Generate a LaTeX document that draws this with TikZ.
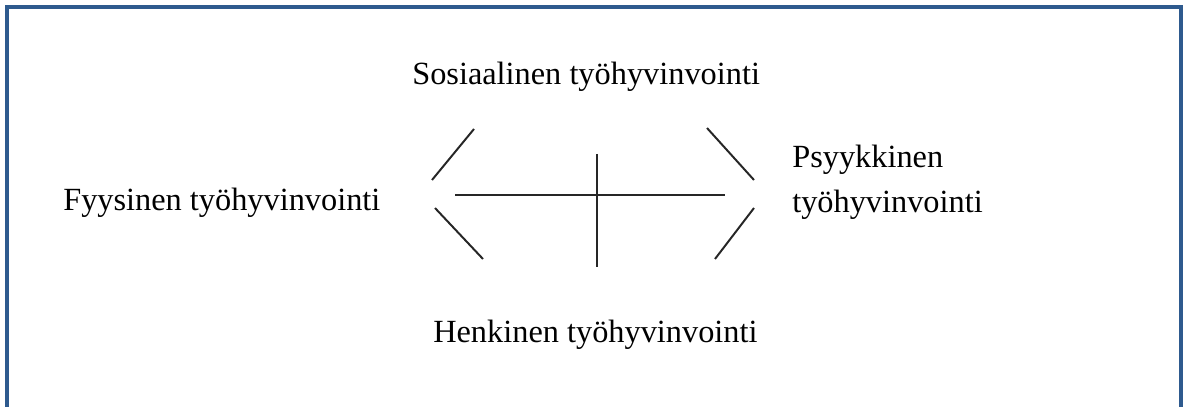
\documentclass[tikz,border=0pt]{standalone}
\usepackage{fontspec}
\setmainfont{Liberation Serif}
\usepackage{tikz}
\definecolor{frameblue}{HTML}{2E5A8E}

\begin{document}
\begin{tikzpicture}[
  x=0.025cm, y=-0.025cm,
  label/.style={inner sep=0pt, anchor=base west, font=\fontsize{23}{32}\selectfont},
  bar/.style={line width=1.4pt, black!85},
]
  \useasboundingbox (0,0) rectangle (1186,407);
  \draw[frameblue, line width=2.2pt] (7,407) -- (7,7) -- (1181,7) -- (1181,407);

  \node[label] (sos) at (412,85)  {Sosiaalinen työhyvinvointi};
  \node[label] (fyy) at (63,210)  {Fyysinen työhyvinvointi};
  \node[label, align=left] (psy) at (792,212) {Psyykkinen\\työhyvinvointi};
  \node[label] (hen) at (433,342) {Henkinen työhyvinvointi};

  \draw[bar] (432,180) -- (474,129);
  \draw[bar] (435,208) -- (483,259);
  \draw[bar] (707,128) -- (754,180);
  \draw[bar] (754,208) -- (715,259);
  \draw[bar] (455,195) -- (725,195);
  \draw[bar] (597,154) -- (597,267);
\end{tikzpicture}
\end{document}
